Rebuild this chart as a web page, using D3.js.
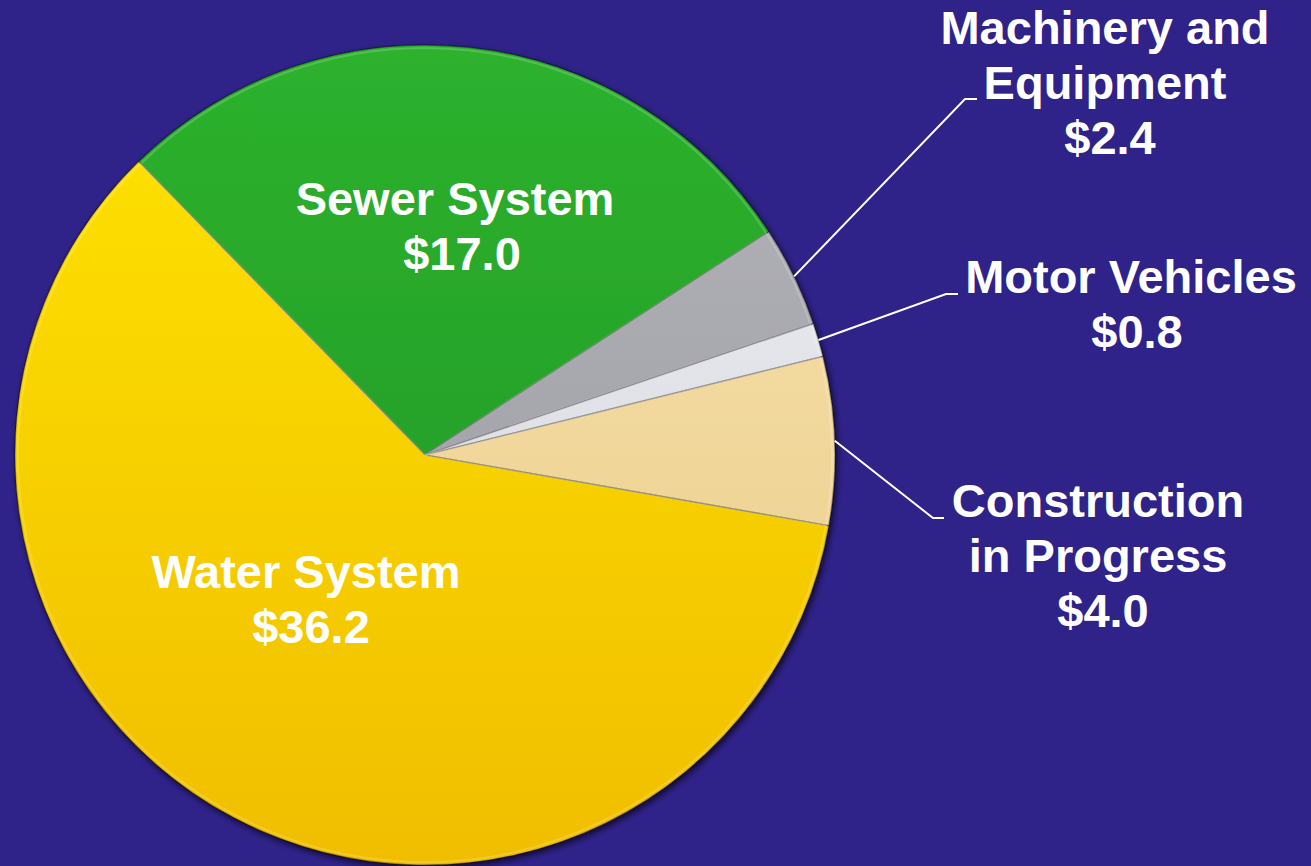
<!DOCTYPE html>
<html>
<head>
<meta charset="utf-8">
<script src="https://cdn.jsdelivr.net/npm/d3@7/dist/d3.min.js"></script>
<style>
  html, body { margin: 0; padding: 0; background: #2F2289; }
  svg { display: block; }
</style>
</head>
<body>
<svg id="chart" width="1311" height="866"></svg>
<script>
// ---- data ----
const categories = ["Sewer System", "Machinery and Equipment", "Motor Vehicles", "Construction in Progress", "Water System"];
const values = [17.0, 2.4, 0.8, 4.0, 36.2];
const valueLabels = ["$17.0", "$2.4", "$0.8", "$4.0", "$36.2"];
const labelLines = [["Sewer System"], ["Machinery and", "Equipment"], ["Motor Vehicles"], ["Construction", "in Progress"], ["Water System"]];

// ---- layout / style (not data) ----
const W = 1311, H = 866;
const cx = 425, cy = 455, R = 410;
const startDeg = -44.3;
const colorsTop = ["#2DB22D", "#B4B4BA", "#F0F0F6", "#F9E3AA", "#FFE400"];
const colorsBot = ["#1E9226", "#96969E", "#CFCFD8", "#E8CA8A", "#F0BE00"];
const labelPos = [
  {x: 455, y: 215, vx: 462, inside: true},
  {x: 1105, y: 44, vx: 1110, inside: false, elbow: [965, 99], end: 977},
  {x: 1131, y: 293, vx: 1137, inside: false, elbow: [946, 294], end: 958},
  {x: 1098, y: 517, vx: 1103, inside: false, elbow: [933, 518], end: 944},
  {x: 306, y: 588, vx: 311, inside: true}
];
const lineH = 55;
const fontSize = 47;

const svg = d3.select("#chart");
svg.append("rect").attr("width", W).attr("height", H).attr("fill", "#2F2289");

const defs = svg.append("defs");
categories.forEach((c, i) => {
  const g = defs.append("linearGradient")
    .attr("id", "grad" + i)
    .attr("gradientUnits", "userSpaceOnUse")
    .attr("x1", 0).attr("y1", -R).attr("x2", 0).attr("y2", R);
  g.append("stop").attr("offset", "0%").attr("stop-color", colorsTop[i]);
  g.append("stop").attr("offset", "100%").attr("stop-color", colorsBot[i]);
});

// shadow filter
const sf = defs.append("filter").attr("id", "shadow")
  .attr("x", "-10%").attr("y", "-10%").attr("width", "120%").attr("height", "120%");
sf.append("feGaussianBlur").attr("in", "SourceAlpha").attr("stdDeviation", 3).attr("result", "b");
sf.append("feOffset").attr("in", "b").attr("dx", 2).attr("dy", 3).attr("result", "o");
sf.append("feComponentTransfer").attr("in", "o").attr("result", "oa")
  .append("feFuncA").attr("type", "linear").attr("slope", 0.7);
const m = sf.append("feMerge");
m.append("feMergeNode").attr("in", "oa");
m.append("feMergeNode").attr("in", "SourceGraphic");

const pie = d3.pie().sort(null).value(d => d)
  .startAngle(startDeg * Math.PI / 180)
  .endAngle(startDeg * Math.PI / 180 + 2 * Math.PI);
const arcs = pie(values);
const arc = d3.arc().innerRadius(0).outerRadius(R);
const innerArc = d3.arc().innerRadius(0).outerRadius(R - 3);

const g = svg.append("g").attr("transform", `translate(${cx},${cy})`);
const pg = g.append("g").attr("filter", "url(#shadow)");
pg.selectAll("path.slice").data(arcs).enter().append("path")
  .attr("class", "slice")
  .attr("d", arc)
  .attr("fill", (d, i) => `url(#grad${i})`)
  .attr("stroke", "rgba(0,0,0,0.35)")
  .attr("stroke-width", 1.5);
// soft bevel highlight along edges
pg.selectAll("path.hl").data(arcs).enter().append("path")
  .attr("class", "hl")
  .attr("d", innerArc)
  .attr("fill", "none")
  .attr("stroke", "rgba(255,255,255,0.18)")
  .attr("stroke-width", 2);

// leader lines
arcs.forEach((d, i) => {
  const lp = labelPos[i];
  if (lp.inside) return;
  const mid = (d.startAngle + d.endAngle) / 2;
  const sx = cx + R * Math.sin(mid), sy = cy - R * Math.cos(mid);
  svg.append("polyline")
    .attr("points", `${sx},${sy} ${lp.elbow[0]},${lp.elbow[1]} ${lp.end},${lp.elbow[1]}`)
    .attr("fill", "none").attr("stroke", "#ffffff").attr("stroke-width", 2);
});

// labels
const tg = svg.append("g")
  .attr("font-family", "'Liberation Sans', Arial, Helvetica, sans-serif")
  .attr("font-weight", "bold")
  .attr("font-size", fontSize)
  .attr("fill", "#ffffff")
  .attr("text-anchor", "middle");
labelLines.forEach((lines, i) => {
  const lp = labelPos[i];
  lines.forEach((t, j) => {
    tg.append("text").attr("x", lp.x).attr("y", lp.y + j * lineH).text(t);
  });
  tg.append("text").attr("x", lp.vx).attr("y", lp.y + lines.length * lineH).text(valueLabels[i]);
});
</script>
</body>
</html>
